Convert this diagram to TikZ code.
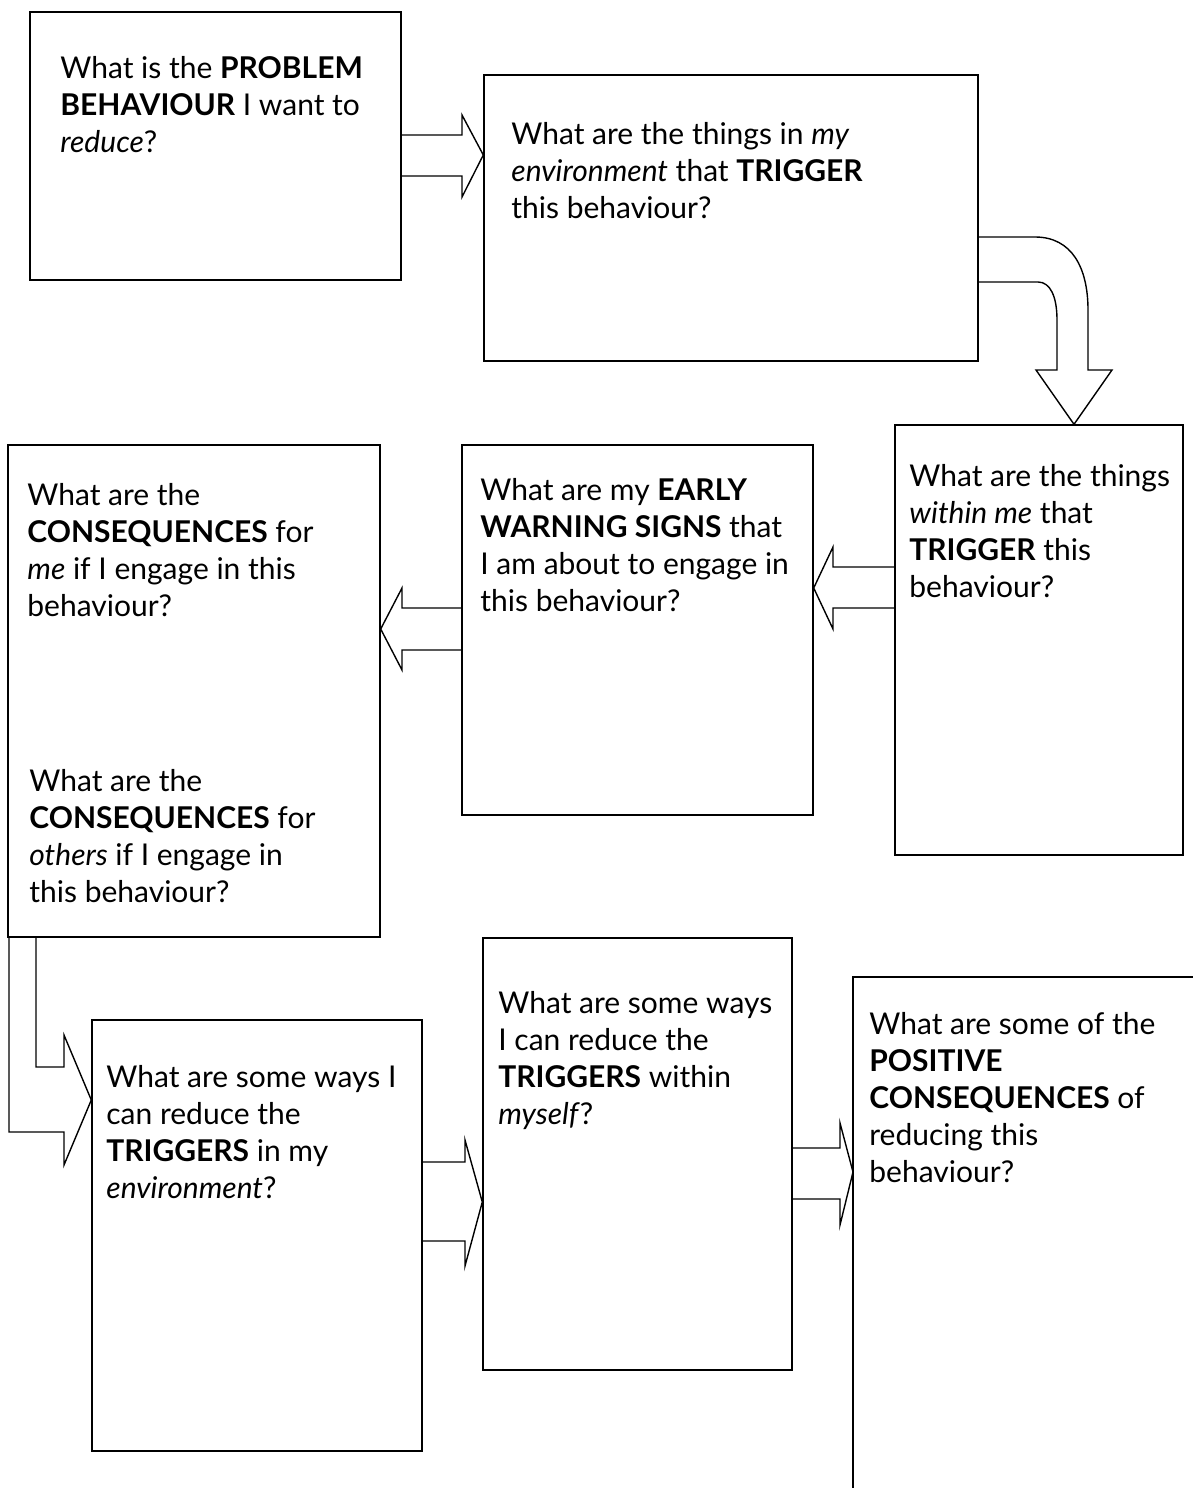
\documentclass[tikz,border=0pt]{standalone}
\usepackage{fontspec}
\setmainfont{Lato}
\usetikzlibrary{fit, calc}

\begin{document}
\begin{tikzpicture}[
    x=0.5pt, y=-0.5pt,
    caixa/.style={
        draw,
        line width=0.7pt,
        inner sep=0pt
    },
    texto/.style={
        anchor=north west,
        align=left,
        inner sep=0pt,
        font=\fontsize{15}{18.5}\selectfont
    },
    seta/.style={
        draw,
        line width=0.7pt,
        line join=miter
    }
]
\useasboundingbox (0,0) rectangle (1193,1488);

% caixas
\node[caixa, fit={(30,12) (401,280)}] (problem) {};
\node[caixa, fit={(484,75) (978,361)}] (envtrig) {};
\node[caixa, fit={(895,425) (1183,855)}] (metrig) {};
\node[caixa, fit={(462,445) (813,815)}] (warning) {};
\node[caixa, fit={(8,445) (380,937)}] (conseq) {};
\node[caixa, fit={(92,1020) (422,1451)}] (redenv) {};
\node[caixa, fit={(483,938) (792,1370)}] (redself) {};
\coordinate (posbot) at (853,1488);
\coordinate (posright) at (1193,977);
\draw[line width=0.7pt] (posbot) |- (posright);

% textos
\node[texto] (t1) at (60,56)
{What is the \textbf{PROBLEM}\\
\textbf{BEHAVIOUR} I want to\\
\textit{reduce}?};

\node[texto] (t2) at (511,122)
{What are the things in \textit{my}\\
\textit{environment} that \textbf{TRIGGER}\\
this behaviour?};

\node[texto] (t3) at (909,464)
{What are the things\\
\textit{within me} that\\
\textbf{TRIGGER} this\\
behaviour?};

\node[texto] (t4) at (480,478)
{What are my \textbf{EARLY}\\
\textbf{WARNING SIGNS} that\\
I am about to engage in\\
this behaviour?};

\node[texto] (t5) at (27,483)
{What are the\\
\textbf{CONSEQUENCES} for\\
\textit{me} if I engage in this\\
behaviour?};

\node[texto] (t6) at (29,769)
{What are the\\
\textbf{CONSEQUENCES} for\\
\textit{others} if I engage in\\
this behaviour?};

\node[texto] (t7) at (106,1065)
{What are some ways I\\
can reduce the\\
\textbf{TRIGGERS} in my\\
\textit{environment}?};

\node[texto] (t8) at (498,991)
{What are some ways\\
I can reduce the\\
\textbf{TRIGGERS} within\\
\textit{myself}?};

\node[texto] (t9) at (869,1012)
{What are some of the\\
\textbf{POSITIVE}\\
\textbf{CONSEQUENCES} of\\
reducing this\\
behaviour?};

% setas
\draw[seta] (problem.east |- 0,135) -- (462,135) -- (462,115)
    -- (envtrig.west |- 0,155) -- (462,197) -- (462,176)
    -- (problem.east |- 0,176);

\draw[seta] (envtrig.east |- 0,237) -- (1035,237)
    .. controls (1072,237) and (1088,268) .. (1088,310)
    -- (1088,370) -- (1112,370) -- (metrig.north -| 1074,0)
    -- (1036,370) -- (1057,370) -- (1057,320)
    .. controls (1057,296) and (1050,282) .. (1038,282)
    -- (envtrig.east |- 0,282);

\draw[seta] (metrig.west |- 0,567) -- (833,567) -- (833,547)
    -- (warning.east |- 0,588) -- (833,629) -- (833,608)
    -- (metrig.west |- 0,608);

\draw[seta] (warning.west |- 0,608) -- (402,608) -- (402,588)
    -- (conseq.east |- 0,629) -- (402,670) -- (402,650)
    -- (warning.west |- 0,650);

\draw[seta] (conseq.south -| 9,0) -- (9,1132) -- (64,1132) -- (64,1165)
    -- (redenv.west |- 0,1100) -- (64,1035) -- (64,1067)
    -- (36,1067) -- (conseq.south -| 36,0);

\draw[seta] (redenv.east |- 0,1162) -- (465,1162) -- (465,1140)
    -- (redself.west |- 0,1202) -- (465,1266) -- (465,1241)
    -- (redenv.east |- 0,1241);

\draw[seta] (redself.east |- 0,1148) -- (840,1148) -- (840,1123)
    -- (posbot |- 0,1172) -- (840,1225) -- (840,1199)
    -- (redself.east |- 0,1199);

\end{tikzpicture}
\end{document}
